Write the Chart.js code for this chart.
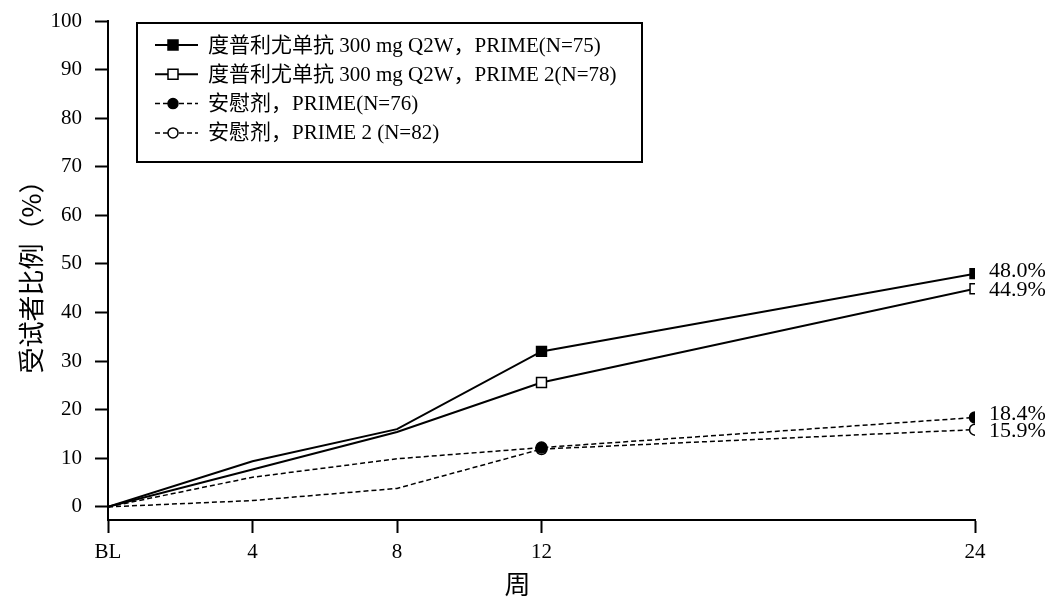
<!DOCTYPE html>
<html>
<head>
<meta charset="utf-8">
<script src="https://cdn.jsdelivr.net/npm/chart.js@4"></script>
<style>
  body { margin: 0; background: #fff; }
  #wrap { width: 1052px; height: 599px; }
</style>
</head>
<body>
<div id="wrap"><canvas id="chart" width="1052" height="599"></canvas></div>
<script>
// weeks (BL = 0)
const weeks = [0, 4, 8, 12, 24];
const xTicks = [0, 4, 8, 12, 24];
const yTicks = [0, 10, 20, 30, 40, 50, 60, 70, 80, 90, 100];

const seriesLabels = [
  "度普利尤单抗 300 mg Q2W，PRIME(N=75)",
  "度普利尤单抗 300 mg Q2W，PRIME 2(N=78)",
  "安慰剂，PRIME(N=76)",
  "安慰剂，PRIME 2 (N=82)",
];
const dupiPrime = [0, 9.4, 16.0, 32.0, 48.0];
const dupiPrime2 = [0, 7.7, 15.4, 25.6, 44.9];
const placeboPrime = [0, 6.1, 9.9, 12.2, 18.4];
const placeboPrime2 = [0, 1.3, 3.8, 11.9, 15.9];

const serif = "'Liberation Serif', 'Noto Sans CJK SC', serif";
const cjk = "'Noto Sans CJK SC', sans-serif";

function toPoints(vals) {
  return vals.map((v, i) => ({ x: weeks[i], y: v }));
}

function makeSet(label, vals, style, filled, dashed) {
  const isRect = style === "rect";
  return {
    label: label,
    data: toPoints(vals),
    borderColor: "#000",
    borderWidth: dashed ? 1.5 : 2,
    borderDash: dashed ? [5, 3] : [],
    pointStyle: style,
    pointRadius: vals.map((v, i) => (i >= 3 ? (isRect ? 7 : 5.5) : 0)),
    pointBackgroundColor: filled ? "#000" : "#fff",
    pointBorderColor: "#000",
    pointBorderWidth: 1.5,
    fill: false,
    tension: 0,
  };
}

const datasets = [
  makeSet(seriesLabels[0], dupiPrime, "rect", true, false),
  makeSet(seriesLabels[1], dupiPrime2, "rect", false, false),
  makeSet(seriesLabels[2], placeboPrime, "circle", true, true),
  makeSet(seriesLabels[3], placeboPrime2, "circle", false, true),
];

// value labels at week 24 + boxed legend + x title
const extras = {
  id: "extras",
  afterDatasetsDraw(chart) {
    const ctx = chart.ctx;
    const offsets = [-2, 1, -3, 2];
    ctx.save();
    ctx.font = "22px " + serif;
    ctx.fillStyle = "#000";
    ctx.textBaseline = "middle";
    ctx.textAlign = "left";
    chart.data.datasets.forEach((ds, i) => {
      const meta = chart.getDatasetMeta(i);
      const pt = meta.data[meta.data.length - 1];
      const v = ds.data[ds.data.length - 1].y;
      ctx.fillText(v.toFixed(1) + "%", pt.x + 14, pt.y + offsets[i]);
    });
    ctx.restore();
  },
  afterDraw(chart) {
    const ctx = chart.ctx;
    const area = chart.chartArea;
    ctx.save();
    // legend box
    const bx = area.left + 29, by = area.top + 2, bw = 505, bh = 139;
    ctx.lineWidth = 2;
    ctx.strokeStyle = "#000";
    ctx.strokeRect(bx, by, bw, bh);
    ctx.font = "21px " + serif;
    ctx.textBaseline = "middle";
    ctx.fillStyle = "#000";
    chart.data.datasets.forEach((ds, i) => {
      const y = by + 22 + i * 29.3;
      const x0 = bx + 18, x1 = bx + 61, mx = bx + 36;
      ctx.setLineDash(ds.borderDash);
      ctx.lineWidth = ds.borderWidth;
      ctx.beginPath();
      ctx.moveTo(x0, y);
      ctx.lineTo(x1, y);
      ctx.stroke();
      ctx.setLineDash([]);
      ctx.fillStyle = ds.pointBackgroundColor;
      ctx.lineWidth = 1.5;
      ctx.beginPath();
      if (ds.pointStyle === "rect") {
        ctx.rect(mx - 5, y - 5, 10, 10);
      } else {
        ctx.arc(mx, y, 5, 0, Math.PI * 2);
      }
      ctx.fill();
      ctx.stroke();
      ctx.fillStyle = "#000";
      ctx.fillText(ds.label, bx + 71, y + 1);
    });
    // x axis title
    ctx.font = "26px " + cjk;
    ctx.textAlign = "center";
    ctx.fillText("周", (area.left + area.right) / 2 - 24, 584);
    ctx.restore();
  },
};

new Chart(document.getElementById("chart"), {
  type: "line",
  data: { datasets: datasets },
  options: {
    responsive: false,
    animation: false,
    layout: { padding: { top: 21, right: 77, bottom: 0, left: 0 } },
    plugins: {
      legend: { display: false },
      tooltip: { enabled: false },
    },
    scales: {
      x: {
        type: "linear",
        min: 0,
        max: 24,
        afterBuildTicks: (axis) => {
          axis.ticks = xTicks.map((v) => ({ value: v }));
        },
        afterFit: (axis) => {
          axis.height = 79;
          axis.paddingLeft = 0;
          axis.paddingRight = 0;
        },
        border: { color: "#000", width: 2 },
        grid: {
          drawOnChartArea: false,
          drawTicks: true,
          tickLength: 13,
          tickWidth: 2,
          tickColor: "#000",
        },
        ticks: {
          color: "#000",
          font: { family: serif, size: 21 },
          padding: 7,
          maxRotation: 0,
          callback: (v) => (v === 0 ? "BL" : v),
        },
      },
      y: {
        min: -2.7,
        max: 100,
        afterBuildTicks: (axis) => {
          axis.ticks = yTicks.map((v) => ({ value: v }));
        },
        afterFit: (axis) => {
          axis.width = 108;
          axis.paddingTop = 0;
          axis.paddingBottom = 0;
        },
        border: { color: "#000", width: 2 },
        grid: {
          drawOnChartArea: false,
          drawTicks: true,
          tickLength: 13,
          tickWidth: 2,
          tickColor: "#000",
        },
        ticks: {
          color: "#000",
          font: { family: serif, size: 21 },
          padding: 13,
        },
        title: {
          display: true,
          text: "受试者比例（%）",
          color: "#000",
          font: { family: cjk, size: 26 },
          padding: { top: 16, bottom: 0 },
        },
      },
    },
  },
  plugins: [extras],
});
</script>
</body>
</html>
